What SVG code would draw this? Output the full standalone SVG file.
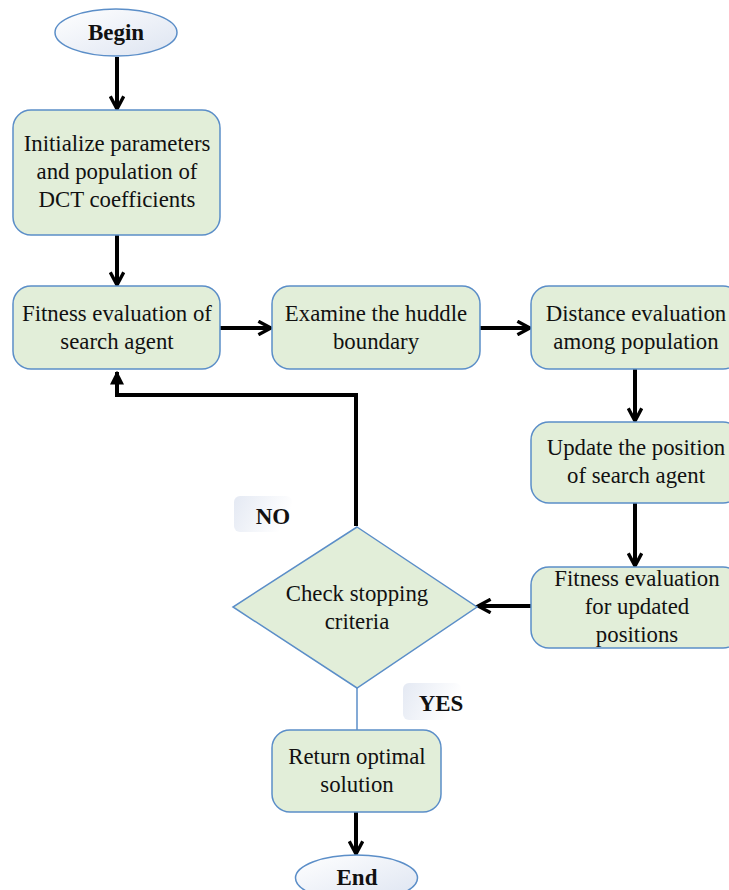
<svg xmlns="http://www.w3.org/2000/svg" width="729" height="890" viewBox="0 0 729 890">
<style>
.box{fill:#e2eed9;stroke:#5b8ec8;stroke-width:1.5}
.ell{fill:url(#eg);stroke:#5b8ec8;stroke-width:1.5}
.t{font-family:"Liberation Serif","Times New Roman",serif;font-size:22.8px;fill:#111;text-anchor:middle}
.b{font-weight:bold;font-size:23px}
.c{fill:none;stroke:#000;stroke-width:4}
.thin{fill:none;stroke:#5b8ec8;stroke-width:1.5}
.lbl{fill:url(#lg)}
</style>
<defs>
<linearGradient id="eg" x1="0" y1="0" x2="1" y2="1">
<stop offset="0" stop-color="#ffffff"/><stop offset="1" stop-color="#dde4f1"/>
</linearGradient>
<linearGradient id="lg" x1="0" y1="0" x2="1" y2="0.3">
<stop offset="0" stop-color="#e4e9f3"/><stop offset="1" stop-color="#ffffff"/>
</linearGradient>
<marker id="ah" viewBox="0 0 10 10" refX="8.5" refY="5" markerWidth="4.2" markerHeight="4.2" orient="auto" markerUnits="strokeWidth">
<polyline points="1,1 8.5,5 1,9" fill="none" stroke="#000" stroke-width="2"/>
</marker>
<marker id="fh" viewBox="0 0 10 10" refX="9" refY="5" markerWidth="3.5" markerHeight="3.5" orient="auto" markerUnits="strokeWidth">
<polygon points="0,0 10,5 0,10" fill="#000"/>
</marker>
</defs>
<g id="connectors">
<line class="c" x1="117" y1="57" x2="117" y2="109" marker-end="url(#ah)"/>
<line class="c" x1="117" y1="235" x2="117" y2="285" marker-end="url(#ah)"/>
<line class="c" x1="220" y1="328" x2="271" y2="328" marker-end="url(#ah)"/>
<line class="c" x1="480" y1="328" x2="530" y2="328" marker-end="url(#ah)"/>
<line class="c" x1="635" y1="369" x2="635" y2="421" marker-end="url(#ah)"/>
<line class="c" x1="635" y1="503" x2="635" y2="566" marker-end="url(#ah)"/>
<line class="c" x1="531" y1="606" x2="478" y2="606" marker-end="url(#ah)"/>
<polyline class="c" points="356,526 356,395 117,395 117,372" marker-end="url(#fh)"/>
<line class="thin" x1="357" y1="688" x2="357" y2="730"/>
<line class="c" x1="356" y1="812" x2="356" y2="854" marker-end="url(#ah)"/>
</g>
<g id="begin">
<ellipse class="ell" cx="116" cy="32.5" rx="61" ry="23.5"/>
<text class="t b" x="116" y="40">Begin</text>
</g>
<g id="init">
<rect class="box" x="13" y="110" width="207" height="125" rx="18"/>
<text class="t" x="117" y="151">Initialize parameters</text>
<text class="t" x="117" y="179">and population of</text>
<text class="t" x="117" y="207">DCT coefficients</text>
</g>
<g id="fitness1">
<rect class="box" x="13" y="286" width="207" height="83" rx="18"/>
<text class="t" x="117" y="321">Fitness evaluation of</text>
<text class="t" x="117" y="349">search agent</text>
</g>
<g id="huddle">
<rect class="box" x="272" y="286" width="208" height="83" rx="18"/>
<text class="t" x="376" y="321">Examine the huddle</text>
<text class="t" x="376" y="349">boundary</text>
</g>
<g id="distance">
<rect class="box" x="531" y="286" width="210" height="83" rx="18"/>
<text class="t" x="636" y="321">Distance evaluation</text>
<text class="t" x="636" y="349">among population</text>
</g>
<g id="update">
<rect class="box" x="531" y="422" width="210" height="81" rx="18"/>
<text class="t" x="636" y="455">Update the position</text>
<text class="t" x="636" y="483">of search agent</text>
</g>
<g id="fitness2">
<rect class="box" x="531" y="567" width="210" height="81" rx="18"/>
<text class="t" x="637" y="586">Fitness evaluation</text>
<text class="t" x="637" y="614">for updated</text>
<text class="t" x="637" y="642">positions</text>
</g>
<g id="check">
<polygon class="box" points="357,527 477,607 357,688 233,607"/>
<text class="t" x="357" y="601">Check stopping</text>
<text class="t" x="357" y="629">criteria</text>
</g>
<g id="no">
<rect class="lbl" x="234" y="496" width="58" height="36" rx="6"/>
<text class="t b" x="273" y="524">NO</text>
</g>
<g id="yes">
<rect class="lbl" x="403" y="683" width="58" height="37" rx="6"/>
<text class="t b" x="441" y="711">YES</text>
</g>
<g id="return">
<rect class="box" x="272" y="730" width="169" height="82" rx="18"/>
<text class="t" x="357" y="764">Return optimal</text>
<text class="t" x="357" y="792">solution</text>
</g>
<g id="end">
<ellipse class="ell" cx="356.5" cy="878" rx="61" ry="23"/>
<text class="t b" x="357" y="885">End</text>
</g>
</svg>
